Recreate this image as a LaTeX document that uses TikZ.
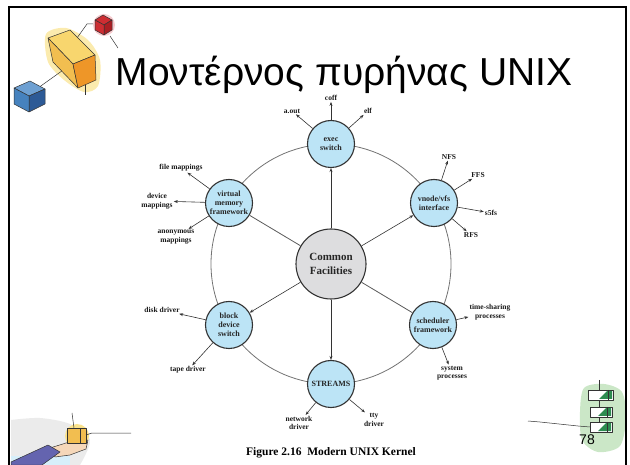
\documentclass[tikz,border=0pt]{standalone}
\usepackage{fontspec}
\setmainfont{Liberation Serif}
\newfontfamily\titlefont{Liberation Sans}
\usepackage{xcolor}
\usetikzlibrary{arrows.meta, positioning, backgrounds}

\definecolor{satblue}{RGB}{188,228,246}
\definecolor{coregray}{RGB}{221,221,223}
\definecolor{washyellow}{RGB}{250,226,140}
\definecolor{cubetop}{RGB}{248,214,110}
\definecolor{cubeleft}{RGB}{242,190,80}
\definecolor{cubefront}{RGB}{238,150,40}
\definecolor{cubered}{RGB}{205,45,50}
\definecolor{cubereddark}{RGB}{170,30,35}
\definecolor{washpink}{RGB}{245,190,195}
\definecolor{cubeblue}{RGB}{70,130,190}
\definecolor{cubebluedark}{RGB}{45,90,150}
\definecolor{cubebluelight}{RGB}{110,160,210}
\definecolor{washgreen}{RGB}{190,225,185}
\definecolor{boxgreen}{RGB}{45,140,80}
\definecolor{sleeve}{RGB}{100,100,175}
\definecolor{skin}{RGB}{245,215,185}

\begin{document}
\begin{tikzpicture}[x=1pt, y=-1pt,
    sat/.style={circle, draw=black!80, line width=1.1pt, fill=satblue, minimum size=47pt, inner sep=0pt, font=\bfseries\fontsize{8}{9}\selectfont, align=center, text=black!85},
    core/.style={circle, draw=black!80, line width=1.1pt, fill=coregray, minimum size=70pt, inner sep=0pt, font=\bfseries\fontsize{11}{14}\selectfont, align=center, text=black!85},
    lbl/.style={inner sep=1pt, font=\bfseries\fontsize{7.5}{8.5}\selectfont, align=center, text=black!90},
    arrow/.style={-{Stealth[length=4pt, width=3pt]}, line width=0.6pt, draw=black!80},
    spoke/.style={line width=0.8pt, draw=black!65},
    ring/.style={line width=0.8pt, draw=black!55},
    sketch/.style={draw=black!80, line width=0.5pt, line join=round}
]
\useasboundingbox (0,0) rectangle (630,465);

% Cubes, top left
\fill[washyellow, opacity=0.7] plot[smooth cycle] coordinates {(46,34) (66,28) (88,40) (100,60) (98,86) (84,92) (64,80) (48,62)};
\fill[washpink, opacity=0.8] (104,25) circle (11pt);
\draw[sketch] (93,24) -- (87,24) -- (72,45);
\draw[sketch] (110,36) -- (118,48);
\draw[sketch] (38,88) -- (66,68);
\draw[sketch] (85,82) -- (85,95);
\filldraw[sketch, fill=cubetop] (48,38) -- (70,30) -- (95,55) -- (73,64) -- cycle;
\filldraw[sketch, fill=cubeleft] (48,38) -- (73,64) -- (78,88) -- (53,62) -- cycle;
\filldraw[sketch, fill=cubefront] (73,64) -- (95,55) -- (96,80) -- (78,88) -- cycle;
\filldraw[sketch, fill=cubered] (95,20) -- (103,15) -- (112,20) -- (104,25) -- cycle;
\filldraw[sketch, fill=cubereddark] (104,25) -- (112,20) -- (112,30) -- (104,35) -- cycle;
\filldraw[sketch, fill=cubered] (95,20) -- (104,25) -- (104,35) -- (95,30) -- cycle;
\filldraw[sketch, fill=cubebluelight] (14,88) -- (30,81) -- (45,89) -- (29,96) -- cycle;
\filldraw[sketch, fill=cubebluedark] (29,96) -- (45,89) -- (45,104) -- (29,112) -- cycle;
\filldraw[sketch, fill=cubeblue] (14,88) -- (29,96) -- (29,112) -- (14,104) -- cycle;

% Hand with box, bottom left
\fill[black!8] plot[smooth] coordinates {(11,420) (40,418) (70,424) (90,440) (80,465)} -- (11,465) -- cycle;
\fill[washyellow] (77,436) circle (12pt);
\fill[satblue!60] (11,456) -- (70,456) -- (70,465) -- (11,465) -- cycle;
\filldraw[sketch, fill=skin] (50,448) -- (66,443) -- (88,440) -- (86,449) -- (70,455) -- (55,457) -- cycle;
\filldraw[sketch, fill=sleeve] (11,462) -- (48,445) -- (60,452) -- (42,465) -- (11,465) -- cycle;
\filldraw[sketch, fill=cubeleft] (67,428) rectangle (86,443);
\draw[sketch] (80,428) -- (80,443);
\draw[sketch] (74,428) -- (72,413);
\draw[sketch] (86,435) -- (92,433) -- (131,433);

% Stacked boxes, bottom right
\fill[washgreen, opacity=0.8] plot[smooth cycle] coordinates {(584,388) (604,384) (622,392) (626,418) (620,446) (598,452) (582,440) (580,412)};
\draw[sketch] (599,380) -- (599,422);
\draw[sketch] (528,421) -- (540,422) -- (578,426) -- (590,427);
\foreach \t/\l/\r in {390/588/613, 407/590/612, 422/590/612}{
  \filldraw[sketch, fill=white] (\l,\t) rectangle (\r,\t+10);
  \fill[boxgreen] (\r-14,\t+9) -- (\r-6,\t+1) -- (\r-1,\t+1) -- (\r-1,\t+9) -- cycle;
  \draw[sketch] (\r-5,\t) -- (\r-5,\t+10);
}
\node[font=\titlefont\fontsize{14}{16}\selectfont] (page) at (587,440) {78};

% Slide frame and title
\draw[line width=2pt] (9,465) -- (9,7) -- (626,7) -- (626,465);
\node[font=\titlefont\fontsize{39}{44}\selectfont, anchor=base] (title) at (344,86) {Μοντέρνος πυρήνας UNIX};

% Kernel components
\node[core] (common) at (331,264) {Common\\Facilities};
\node[sat] (exec) at (331,144) {exec\\switch};
\node[sat] (vnode) at (434,203) {vnode/vfs\\interface};
\node[sat] (sched) at (433,325) {scheduler\\framework};
\node[sat] (streams) at (331,384) {STREAMS};
\node[sat] (block) at (229,325) {block\\device\\switch};
\node[sat] (vm) at (229,203) {virtual\\memory\\framework};

\begin{scope}[on background layer]
\draw[ring] (common.center) circle (120pt);
\end{scope}

% Spokes
\draw[arrow] (common) -- (exec);
\draw[arrow] (common) -- (vnode);
\draw[spoke] (common) -- (sched);
\draw[arrow] (common) -- (streams);
\draw[arrow] (common) -- (block);
\draw[spoke] (common) -- (vm);

% Leaves
\node[lbl] (coff) at (331,98) {coff};
\node[lbl] (aout) at (292,111) {a.out};
\node[lbl] (elf) at (368,111) {elf};
\node[lbl] (nfs) at (449,157) {NFS};
\node[lbl] (ffs) at (478,175) {FFS};
\node[lbl] (sfs) at (491,213) {s5fs};
\node[lbl] (rfs) at (471,235) {RFS};
\node[lbl] (tshare) at (490,312) {time-sharing\\processes};
\node[lbl] (sysproc) at (452,373) {system\\processes};
\node[lbl] (tty) at (374,420) {tty\\driver};
\node[lbl] (netdrv) at (299,423) {network\\driver};
\node[lbl] (tape) at (188,370) {tape driver};
\node[lbl] (disk) at (162,310) {disk driver};
\node[lbl] (anon) at (176,237) {anonymous\\mappings};
\node[lbl] (devmap) at (157,201) {device\\mappings};
\node[lbl] (filemap) at (181,168) {file mappings};

\foreach \s/\t in {exec/coff, exec/aout, exec/elf, vnode/nfs, vnode/ffs, vnode/sfs, vnode/rfs,
    sched/tshare, sched/sysproc, streams/tty, streams/netdrv, block/tape, block/disk,
    vm/anon, vm/devmap, vm/filemap}
  \draw[arrow] (\s) -- (\t);

\node[font=\bfseries\fontsize{11.5}{13}\selectfont] (caption) at (331,453) {Figure 2.16\ \ Modern UNIX Kernel};

\end{tikzpicture}
\end{document}
